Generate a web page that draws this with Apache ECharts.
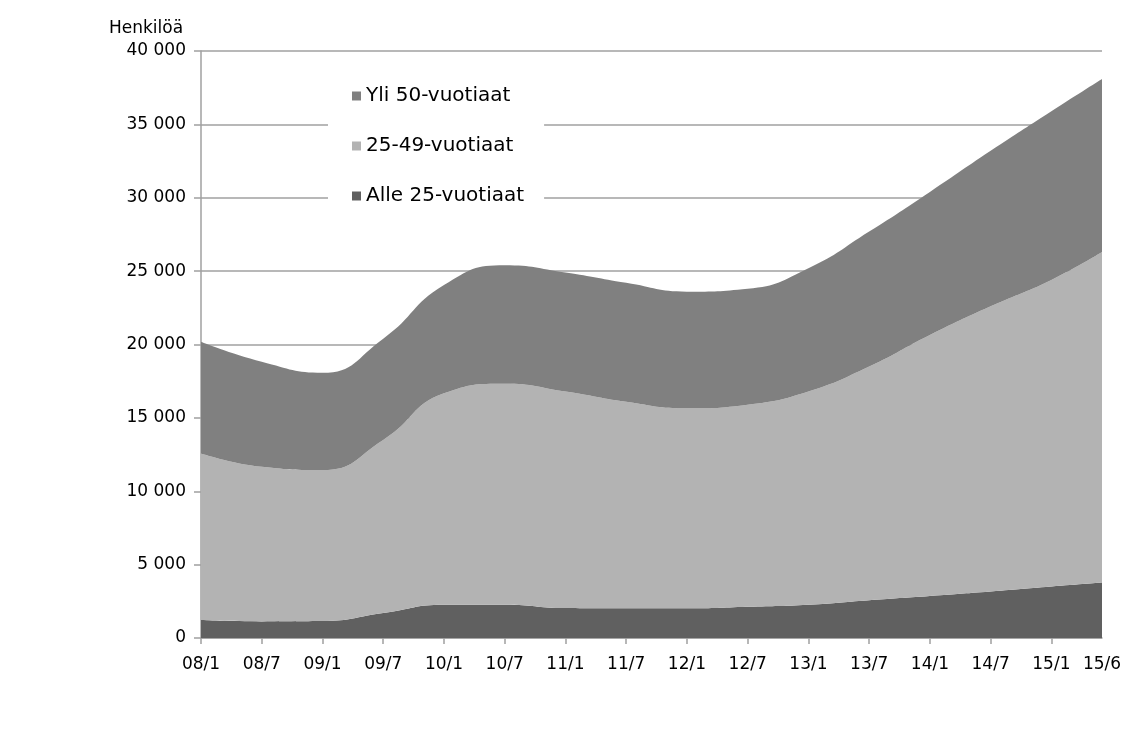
<!DOCTYPE html>
<html>
<head>
<meta charset="utf-8">
<script src="https://cdn.jsdelivr.net/npm/echarts@6/dist/echarts.min.js"></script>
<style>
html,body{margin:0;padding:0;background:#fff;}
#c{width:1128px;height:729px;}
</style>
</head>
<body>
<div id="c"></div>
<script>
// Tick labels (every 6 months, plus final month)
const tickLabels = ['08/1','08/7','09/1','09/7','10/1','10/7','11/1','11/7','12/1','12/7','13/1','13/7','14/1','14/7','15/1','15/6'];
// Series values read at each tick label (persons)
const alle25   = [1220, 1130, 1150, 1700, 2270, 2270, 2040, 2020, 2020, 2130, 2270, 2580, 2870, 3170, 3510, 3780];
const v25to49  = [11360, 10540, 10300, 11800, 14400, 15060, 14760, 14080, 13630, 13770, 14530, 15920, 17780, 19430, 20890, 22520];
const yli50    = [7610, 7160, 6630, 6900, 7380, 8070, 8100, 8100, 7950, 7900, 8400, 9200, 9750, 10600, 11500, 11800];
const seriesNames = ['Alle 25-vuotiaat', '25-49-vuotiaat', 'Yli 50-vuotiaat'];
const yTicks = [0, 5000, 10000, 15000, 20000, 25000, 30000, 35000, 40000];

// Monthly category axis 08/1 .. 15/6
const months = [];
for (let y = 8; y <= 15; y++) {
  for (let m = 1; m <= 12; m++) {
    if (y === 15 && m > 6) break;
    months.push(String(y).padStart(2, '0') + '/' + m);
  }
}
const lastIdx = months.length - 1;
const FONT = 'DejaVu Sans';

function pairs(arr) { return tickLabels.map((c, i) => [c, arr[i]]); }

const colors = ['#606060', '#b3b3b3', '#808080'];
const dataSets = [alle25, v25to49, yli50];

const chart = echarts.init(document.getElementById('c'), null, {renderer: 'canvas'});
chart.setOption({
  animation: false,
  backgroundColor: '#fff',
  title: {
    text: 'Henkilöä',
    left: 104, top: 15,
    textStyle: {fontFamily: FONT, fontSize: 17, fontWeight: 'normal', color: '#000'}
  },
  grid: {left: 201, right: 26, top: 51, bottom: 91, containLabel: false},
  legend: {
    orient: 'vertical',
    left: 328, top: 74,
    data: ['Yli 50-vuotiaat', '25-49-vuotiaat', 'Alle 25-vuotiaat'],
    icon: 'rect',
    itemWidth: 9, itemHeight: 9,
    itemGap: 30,
    backgroundColor: '#fff',
    padding: [12, 20, 12, 24],
    textStyle: {fontFamily: FONT, fontSize: 20, color: '#000'}
  },
  xAxis: {
    type: 'category',
    data: months,
    boundaryGap: false,
    axisLine: {lineStyle: {color: '#a0a0a0', width: 1.5}},
    axisTick: {show: true, length: 6, interval: (i) => i % 6 === 0, lineStyle: {color: '#a0a0a0', width: 1.5}},
    axisLabel: {
      interval: (i) => i % 6 === 0 || i === lastIdx,
      margin: 18,
      fontFamily: FONT, fontSize: 17, color: '#000'
    },
    splitLine: {show: false}
  },
  yAxis: {
    type: 'value',
    min: yTicks[0], max: yTicks[yTicks.length - 1], interval: yTicks[1] - yTicks[0],
    axisLine: {show: true, lineStyle: {color: '#a0a0a0', width: 1.5}},
    axisTick: {show: true, inside: false, length: 7, lineStyle: {color: '#a0a0a0', width: 1.5}},
    axisLabel: {
      margin: 15,
      fontFamily: FONT, fontSize: 17, color: '#000',
      formatter: (v) => String(v).replace(/\B(?=(\d{3})+(?!\d))/g, ' ')
    },
    splitLine: {show: true, lineStyle: {color: '#a0a0a0', width: 1.5}}
  },
  series: seriesNames.map((name, k) => ({
    name: name,
    type: 'line',
    stack: 'total',
    smooth: 0.5,
    showSymbol: false,
    symbol: 'none',
    data: pairs(dataSets[k]),
    lineStyle: {width: 0, color: colors[k]},
    itemStyle: {color: colors[k]},
    areaStyle: {color: colors[k], opacity: 1},
    z: 2
  }))
});
</script>
</body>
</html>
